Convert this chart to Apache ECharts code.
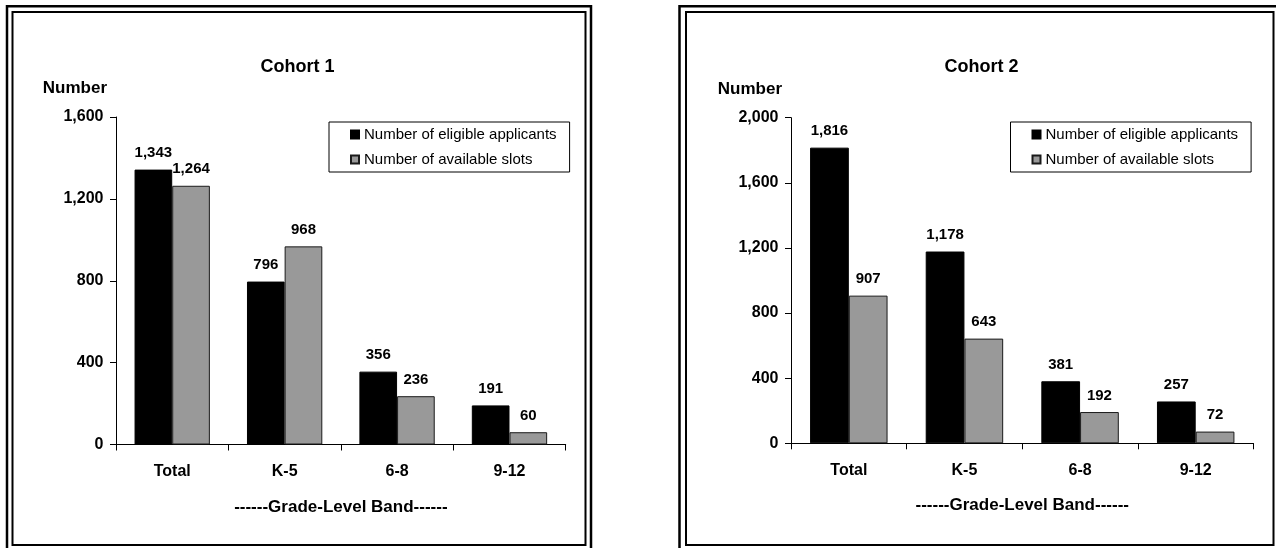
<!DOCTYPE html>
<html>
<head>
<meta charset="utf-8">
<script src="https://cdn.jsdelivr.net/npm/echarts@6/dist/echarts.min.js"></script>
<style>
  html, body { margin: 0; padding: 0; background: #ffffff; }
  #chart { width: 1276px; height: 548px; }
</style>
</head>
<body>
<div id="chart"></div>
<script>
// Grade-level bands on the category axis
const categories = ['Total', 'K-5', '6-8', '9-12'];
const seriesNames = ['Number of eligible applicants', 'Number of available slots'];

// Cohort 1
const cohort1Eligible = [1343, 796, 356, 191];
const cohort1Slots = [1264, 968, 236, 60];

// Cohort 2
const cohort2Eligible = [1816, 1178, 381, 257];
const cohort2Slots = [907, 643, 192, 72];

const panelTitles = ['Cohort 1', 'Cohort 2'];
const yAxisMax = [1600, 2000];
const yAxisStep = 400;
const yAxisName = 'Number';
const xAxisName = '------Grade-Level Band------';

const FONT = "'Liberation Sans', Arial, Helvetica, sans-serif";
const fmt = v => Number(v).toLocaleString('en-US');

// Panel geometry: plot area, legend box, title anchor, double frame
const panels = [
  {
    grid: { left: 116, top: 117, width: 449.7, height: 327.5 },
    legend: { left: 329, top: 122 },
    title: { x: 297.5, y: 67 },
    outer: { x: 7, y: 6.25, width: 584, height: 600 },
    inner: { x: 12.5, y: 12, width: 573, height: 533 }
  },
  {
    grid: { left: 791, top: 117.7, width: 462.5, height: 325.6 },
    legend: { left: 1010.5, top: 122 },
    title: { x: 981.5, y: 67 },
    outer: { x: 679.5, y: 6.25, width: 700, height: 600 },
    inner: { x: 686, y: 12, width: 587.5, height: 533 }
  }
];

const panelData = [
  [cohort1Eligible, cohort1Slots],
  [cohort2Eligible, cohort2Slots]
];

const barColors = ['#000000', '#999999'];
const barBorders = ['#000000', '#1a1a1a'];

const grids = [], xAxes = [], yAxes = [], legends = [], series = [], graphics = [];

panels.forEach((p, i) => {
  grids.push(Object.assign({ containLabel: false }, p.grid));

  xAxes.push({
    type: 'category',
    gridIndex: i,
    data: categories,
    boundaryGap: true,
    axisLine: { show: true, lineStyle: { color: '#000', width: 1 } },
    axisTick: { show: true, length: 6, inside: false, lineStyle: { color: '#000', width: 1 } },
    axisLabel: {
      interval: 0, margin: 19.5, color: '#000',
      fontFamily: FONT, fontWeight: 'bold', fontSize: 16
    },
    splitLine: { show: false },
    name: xAxisName,
    nameLocation: 'middle',
    nameGap: 54,
    nameTextStyle: { color: '#000', fontFamily: FONT, fontWeight: 'bold', fontSize: 17 }
  });

  yAxes.push({
    type: 'value',
    gridIndex: i,
    min: 0,
    max: yAxisMax[i],
    interval: yAxisStep,
    axisLine: { show: true, lineStyle: { color: '#000', width: 1 } },
    axisTick: { show: true, length: 6, inside: false, lineStyle: { color: '#000', width: 1 } },
    axisLabel: {
      margin: 12.5, color: '#000', formatter: fmt,
      fontFamily: FONT, fontWeight: 'bold', fontSize: 16
    },
    splitLine: { show: false },
    name: yAxisName,
    nameLocation: 'end',
    nameGap: 20,
    nameTextStyle: {
      color: '#000', fontFamily: FONT, fontWeight: 'bold', fontSize: 17,
      align: 'right', padding: [0, 9, 0, 0]
    }
  });

  legends.push({
    data: seriesNames,
    orient: 'vertical',
    left: p.legend.left,
    top: p.legend.top,
    padding: [5, 13, 5, 21],
    itemWidth: 8,
    itemHeight: 8,
    itemGap: 10,
    icon: 'rect',
    backgroundColor: '#ffffff',
    borderColor: '#000000',
    borderWidth: 1,
    selectedMode: false,
    textStyle: { color: '#000', fontFamily: FONT, fontSize: 15, lineHeight: 15 }
  });

  panelData[i].forEach((values, s) => {
    series.push({
      name: seriesNames[s],
      type: 'bar',
      xAxisIndex: i,
      yAxisIndex: i,
      data: values,
      barGap: '0%',
      barCategoryGap: '33%',
      itemStyle: { color: barColors[s], borderColor: barBorders[s], borderWidth: 1 },
      label: {
        show: true, position: 'top', distance: 9, formatter: d => fmt(d.value),
        color: '#000', fontFamily: FONT, fontWeight: 'bold', fontSize: 15
      },
      emphasis: { disabled: true }
    });
  });

  graphics.push({
    type: 'rect', silent: true, z: 0,
    shape: p.outer,
    style: { fill: 'none', stroke: '#000', lineWidth: 2.5 }
  });
  graphics.push({
    type: 'rect', silent: true, z: 0,
    shape: p.inner,
    style: { fill: 'none', stroke: '#000', lineWidth: 2 }
  });
  graphics.push({
    type: 'text', silent: true, z: 10,
    x: p.title.x, y: p.title.y,
    style: {
      text: panelTitles[i], fill: '#000',
      font: 'bold 18px ' + FONT,
      textAlign: 'center', textVerticalAlign: 'middle'
    }
  });
});

const chart = echarts.init(document.getElementById('chart'), null, { renderer: 'canvas' });
chart.setOption({
  animation: false,
  backgroundColor: '#ffffff',
  grid: grids,
  xAxis: xAxes,
  yAxis: yAxes,
  legend: legends,
  series: series,
  graphic: graphics,
  tooltip: { show: false }
});
</script>
</body>
</html>
